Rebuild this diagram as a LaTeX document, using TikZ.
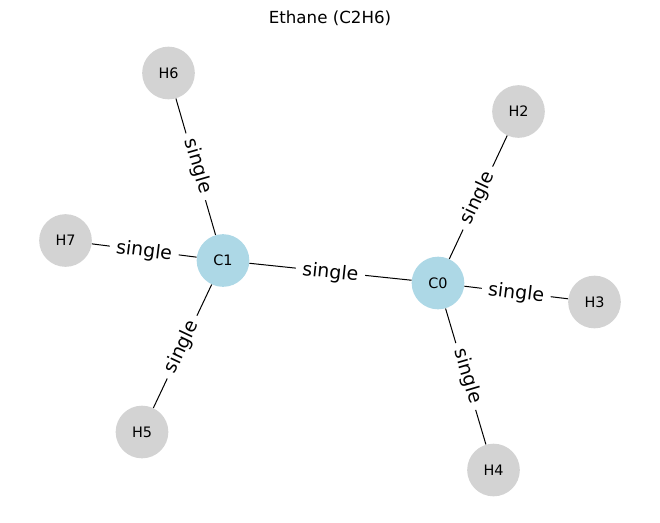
\documentclass[tikz,border=0pt]{standalone}
\usepackage{fontspec}
\setmainfont{DejaVu Sans}
\definecolor{cblue}{HTML}{ADD8E6}
\definecolor{hgray}{HTML}{D3D3D3}
\tikzset{
 atomC/.style={circle,fill=cblue,minimum size=39.5pt,inner sep=0pt,font=\fontsize{10.8}{12}\selectfont},
 atomH/.style={circle,fill=hgray,minimum size=39.5pt,inner sep=0pt,font=\fontsize{10.8}{12}\selectfont},
 bond/.style={draw=black,line width=0.75pt},
 blabel/.style={fill=white,inner xsep=5pt,inner ysep=2pt,font=\fontsize{14.2}{16}\selectfont,sloped,anchor=center},
 ttl/.style={font=\fontsize{12.5}{14}\selectfont}
}
\begin{document}
\begin{tikzpicture}[x=0.75pt,y=-0.75pt]
\useasboundingbox (0,0) rectangle (660,522);
\node[ttl] (title) at (330,18) {Ethane (C2H6)};
\node[atomC] (C0) at (438,283) {C0};
\node[atomC] (C1) at (223,260.5) {C1};
\node[atomH] (H2) at (518.5,111.5) {H2};
\node[atomH] (H3) at (594.5,302) {H3};
\node[atomH] (H4) at (493.5,470) {H4};
\node[atomH] (H5) at (142,432) {H5};
\node[atomH] (H6) at (168.5,73) {H6};
\node[atomH] (H7) at (65.5,240.5) {H7};
\draw[bond] (C0) -- node[blabel,yshift=-1pt] {single} (C1);
\draw[bond] (C0) -- node[blabel,xshift=-0.7pt] {single} (H2);
\draw[bond] (C0) -- node[blabel,yshift=-0.7pt] {single} (H3);
\draw[bond] (C0) -- node[blabel,yshift=1.5pt] {single} (H4);
\draw[bond] (C1) -- node[blabel,xshift=-0.7pt] {single} (H5);
\draw[bond] (C1) -- node[blabel,yshift=1.5pt] {single} (H6);
\draw[bond] (C1) -- node[blabel,yshift=-0.7pt] {single} (H7);
\end{tikzpicture}
\end{document}
